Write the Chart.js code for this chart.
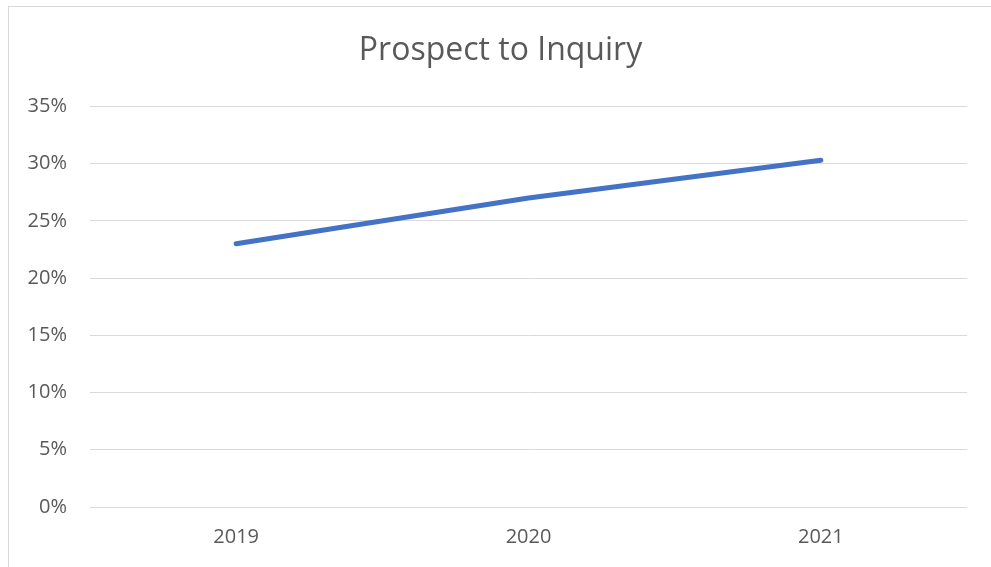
<!DOCTYPE html>
<html>
<head>
<meta charset="utf-8">
<script src="https://cdn.jsdelivr.net/npm/chart.js@4"></script>
<style>
  html, body { margin: 0; padding: 0; background: #fff; overflow: hidden; }
  #frame { position: absolute; left: 8px; top: 6px; width: 1000px; height: 600px; border: 1px solid #d9d9d9; }
  #wrap { position: absolute; left: 0; top: 0; width: 991px; height: 567px; }
</style>
</head>
<body>
<div id="frame"></div>
<div id="wrap"><canvas id="js-chart-prospect"></canvas></div>
<script>
const years = ["2019", "2020", "2021"];
const prospectToInquiry = [23.0, 27.0, 30.3];
const yTicks = [0, 5, 10, 15, 20, 25, 30, 35];

Chart.defaults.font.family = "'Open Sans', sans-serif";
Chart.defaults.color = "#595959";

// centre the title on the whole frame, not on the padded layout box
const titleShift = {
    id: "titleShift",
    afterLayout(chart) {
        if (chart.titleBlock) {
            chart.titleBlock.left = 10;
            chart.titleBlock.right = 991;
        }
    }
};

const el = document.getElementById("js-chart-prospect");
new Chart(el, {
    type: "line",
    data: {
        labels: years,
        datasets: [{
            label: "Prospect to Inquiry",
            data: prospectToInquiry,
            borderColor: "#4472c4",
            backgroundColor: "#4472c4",
            borderWidth: 5,
            borderCapStyle: "round",
            pointRadius: 0,
            tension: 0,
            fill: false
        }]
    },
    options: {
        responsive: true,
        maintainAspectRatio: false,
        animation: false,
        layout: { padding: { left: 0, right: 24, top: 0, bottom: 0 } },
        scales: {
            x: {
                offset: true,
                grid: { display: false, drawTicks: false },
                border: { display: false },
                ticks: { font: { size: 20 }, padding: 18 },
                afterFit: s => { s.height = 60; }
            },
            y: {
                min: 0,
                max: 35,
                afterBuildTicks: s => { s.ticks = yTicks.map(v => ({ value: v })); },
                grid: { color: "#d9d9d9", lineWidth: 1, drawTicks: false },
                border: { display: false },
                ticks: { font: { size: 20 }, padding: 23, callback: v => v + "%" },
                afterFit: s => { s.width = 90; }
            }
        },
        plugins: {
            legend: { display: false },
            tooltip: { enabled: false },
            title: {
                display: true,
                text: "Prospect to Inquiry",
                color: "#595959",
                font: { size: 32, weight: "normal" },
                padding: { top: 32, bottom: 36 }
            }
        }
    },
    plugins: [titleShift]
});
</script>
</body>
</html>
